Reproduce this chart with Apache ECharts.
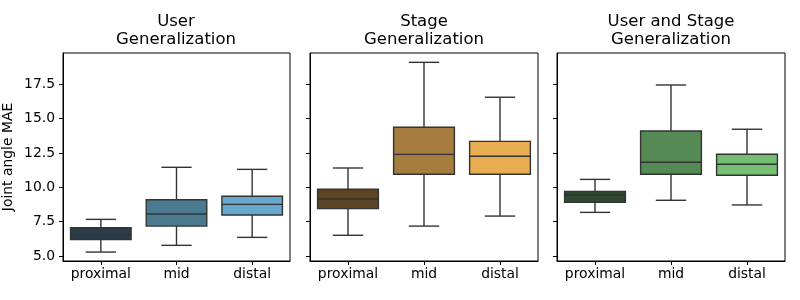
<!DOCTYPE html>
<html><head><meta charset="utf-8">
<script src="https://cdn.jsdelivr.net/npm/echarts@6/dist/echarts.min.js"></script>
<style>html,body{margin:0;padding:0;background:#fff}#c{width:800px;height:300px}</style>
</head><body><div id="c"></div>
<script>
const categories = ['proximal', 'mid', 'distal'];
const panelTitles = ['User\nGeneralization', 'Stage\nGeneralization', 'User and Stage\nGeneralization'];
const yTicks = [5.0, 7.5, 10.0, 12.5, 15.0, 17.5];
// each box: [whiskerLow, Q1, median, Q3, whiskerHigh]
const userGen = [
  [5.29, 6.21, 6.53, 7.06, 7.67],
  [5.78, 7.18, 8.06, 9.10, 11.46],
  [6.36, 7.99, 8.76, 9.35, 11.31]
];
const stageGen = [
  [6.51, 8.45, 9.15, 9.86, 11.41],
  [7.18, 10.95, 12.40, 14.37, 19.10],
  [7.91, 10.95, 12.26, 13.35, 16.56]
];
const userStageGen = [
  [8.18, 8.91, 9.44, 9.71, 10.58],
  [9.06, 10.95, 11.83, 14.10, 17.45],
  [8.72, 10.88, 11.68, 12.41, 14.23]
];
const panelColors = [
  ['#283e4c', '#4a7a90', '#67a8ce'],
  ['#5d4424', '#a67b3e', '#e8ad52'],
  ['#2f4a2e', '#558a55', '#75bf72']
];
const panelData = [userGen, stageGen, userStageGen];

const FONT = 'DejaVu Sans';
const lineColor = '#333333';
const grids = [
  {left: 62, width: 228, top: 53, bottom: 39},
  {left: 310, width: 228, top: 53, bottom: 39},
  {left: 557, width: 228, top: 53, bottom: 39}
];

function renderBox(colors) {
  return function (params, api) {
    const x = api.value(0);
    const lo = api.coord([x, api.value(1)]);
    const q1 = api.coord([x, api.value(2)]);
    const md = api.coord([x, api.value(3)]);
    const q3 = api.coord([x, api.value(4)]);
    const hi = api.coord([x, api.value(5)]);
    const bw = api.size([1, 0])[0] * 0.8;
    const cx = lo[0];
    const cap = bw / 4;
    const ls = {stroke: lineColor, lineWidth: 1.4};
    return {
      type: 'group',
      children: [
        {type: 'line', shape: {x1: cx, y1: q3[1], x2: cx, y2: hi[1]}, style: ls},
        {type: 'line', shape: {x1: cx, y1: q1[1], x2: cx, y2: lo[1]}, style: ls},
        {type: 'line', shape: {x1: cx - cap, y1: hi[1], x2: cx + cap, y2: hi[1]}, style: ls},
        {type: 'line', shape: {x1: cx - cap, y1: lo[1], x2: cx + cap, y2: lo[1]}, style: ls},
        {type: 'rect', shape: {x: cx - bw / 2, y: q3[1], width: bw, height: q1[1] - q3[1]},
          style: {fill: colors[params.dataIndex], stroke: lineColor, lineWidth: 1.4}},
        {type: 'line', shape: {x1: cx - bw / 2, y1: md[1], x2: cx + bw / 2, y2: md[1]}, style: ls}
      ]
    };
  };
}

const option = {
  animation: false,
  backgroundColor: '#fff',
  title: panelTitles.map((t, i) => ({
    text: t,
    left: grids[i].left + grids[i].width / 2 - 5,
    top: 8,
    textAlign: 'center',
    textStyle: {fontFamily: FONT, fontSize: 16.5, fontWeight: 'normal', color: '#000', lineHeight: 18}
  })),
  grid: grids.map(g => Object.assign({show: true, borderColor: '#000', borderWidth: 1, backgroundColor: 'transparent'}, g)),
  xAxis: grids.map((g, i) => ({
    type: 'category', gridIndex: i, data: categories, boundaryGap: true,
    axisLine: {show: true, lineStyle: {color: '#000', width: 1}},
    axisTick: {show: true, alignWithLabel: true, length: 4, lineStyle: {color: '#000'}},
    axisLabel: {interval: 0, hideOverlap: false, fontFamily: FONT, fontSize: 13.9, color: '#000', margin: 6},
    splitLine: {show: false}
  })),
  yAxis: grids.map((g, i) => ({
    type: 'value', gridIndex: i, min: 4.64, max: 19.78,
    name: i === 0 ? 'Joint angle MAE' : '',
    nameLocation: 'middle', nameGap: 48,
    nameTextStyle: {fontFamily: FONT, fontSize: 13.9, color: '#000'},
    axisLine: {show: true, lineStyle: {color: '#000', width: 1}},
    axisTick: {show: true, length: 4, lineStyle: {color: '#000'}, customValues: yTicks},
    axisLabel: {show: i === 0, fontFamily: FONT, fontSize: 13.9, color: '#000', margin: 8,
      customValues: yTicks, formatter: v => Number(v).toFixed(1)},
    splitLine: {show: false}
  })),
  series: panelData.map((d, i) => ({
    type: 'custom', xAxisIndex: i, yAxisIndex: i,
    renderItem: renderBox(panelColors[i]),
    encode: {x: 0, y: [1, 2, 3, 4, 5]},
    data: d.map((b, j) => [j].concat(b))
  }))
};
echarts.init(document.getElementById('c'), null, {renderer: 'canvas'}).setOption(option);
</script></body></html>
